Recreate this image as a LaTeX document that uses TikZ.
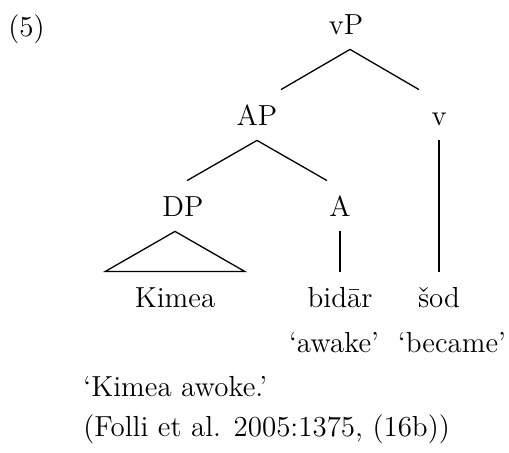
\documentclass[tikz,border=0pt]{standalone}
\usepackage{tikz}
\usetikzlibrary{positioning}
\tikzstyle{cat} = [anchor=base, text height=14pt, text depth=3pt, inner sep=4pt]
\tikzstyle{gloss} = [anchor=base, inner sep=0pt]
\tikzstyle{freetext} = [anchor=base west, inner sep=0pt]
\tikzstyle{branch} = [line width=0.65pt]

\begin{document}
\begin{tikzpicture}[x=0.5pt, y=-0.5pt, font=\fontsize{14.5}{17}\selectfont]
\useasboundingbox (0,0) rectangle (509,453);

\node (num) [freetext] at (8,37) {(5)};

% tree
\node (vP) [cat] at (346,35) {vP};
\node (AP) [cat] at (257,126) {AP};
\node (v) [cat] at (439,126) {v};
\node (DP) [cat] at (183,217) {DP};
\node (A) [cat] at (340,217) {A};
\node (Kimea) [cat] at (175,308) {Kimea};
\node (bidar) [cat] at (340,308) {bidār};
\node (sod) [cat] at (439,308) {šod};

\draw [branch] ([xshift=2pt]vP.south) -- ([xshift=12pt]AP.north);
\draw [branch] ([xshift=2pt]vP.south) -- ([xshift=-10pt]v.north);
\draw [branch] (AP.south) -- ([xshift=2pt]DP.north);
\draw [branch] (AP.south) -- ([xshift=-6.5pt]A.north);
\draw [branch] (A.south) -- (bidar.north);
\draw [branch] (v.south) -- (sod.north);
\draw [branch] (Kimea |- DP.south) -- ([xshift=35pt]Kimea.north)
  -- ([xshift=-35pt]Kimea.north) -- cycle;

% glosses
\node (awake) [gloss] at (334,353) {`awake'};
\node (became) [gloss] at (452,353) {`became'};
\node (trans) [freetext] at (83,397) {`Kimea awoke.'};
\node (cite) [freetext] at (83,437) {(Folli et al. 2005:1375, (16b))};

\end{tikzpicture}
\end{document}
